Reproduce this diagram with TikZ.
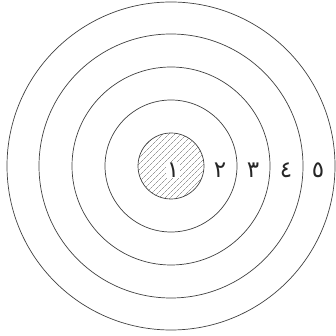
\documentclass[tikz,border=0pt]{standalone}
\usepackage{fontspec}
\newfontfamily\arabicfont[Script=Arabic]{DejaVu Sans}
\usetikzlibrary{patterns.meta}
\begin{document}
\begin{tikzpicture}[x=1pt,y=1pt,
  ring/.style={circle,draw=black!75,line width=0.7pt,inner sep=0pt},
  lbl/.style={font=\arabicfont\fontsize{23}{23}\selectfont,text=black!85,inner sep=0.5pt}]
\useasboundingbox (0,0) rectangle (335,336);
\coordinate (ctr) at (171,170);
\node[ring,minimum size=328] (r5) at (ctr) {};
\node[ring,minimum size=264] (r4) at (ctr) {};
\node[ring,minimum size=198] (r3) at (ctr) {};
\node[ring,minimum size=132] (r2) at (ctr) {};
\node[ring,minimum size=66,pattern={Lines[angle=45,distance=4pt,line width=0.45pt]},pattern color=black!60] (r1) at (ctr) {};
\node[lbl,fill=white] (l1) at (173,166) {١};
\node[lbl] (l2) at (220,166) {٢};
\node[lbl] (l3) at (253,166) {٣};
\node[lbl] (l4) at (286,166) {٤};
\node[lbl] (l5) at (318,166) {٥};
\end{tikzpicture}
\end{document}
